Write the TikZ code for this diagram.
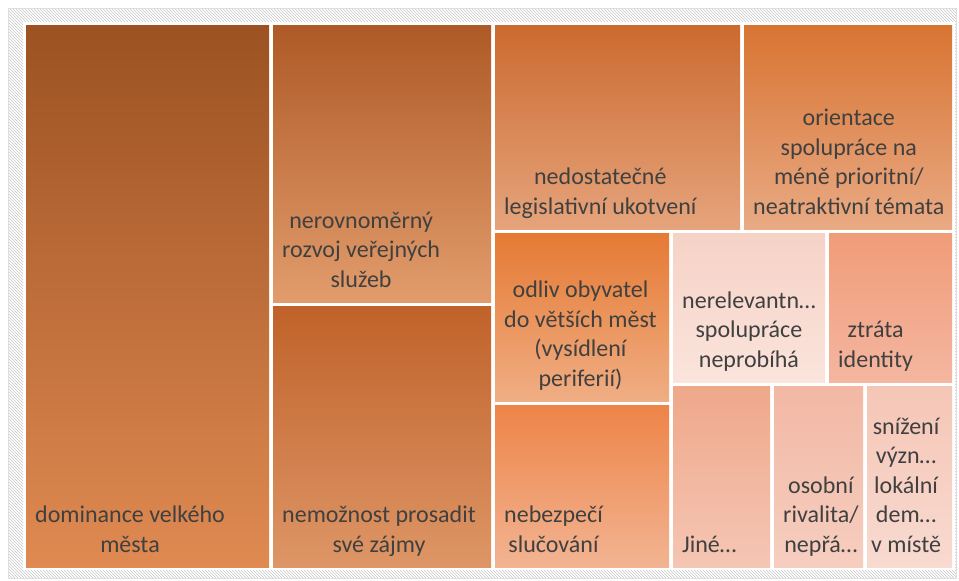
\documentclass[tikz,border=0pt]{standalone}
\usepackage{fontspec}
\setmainfont{Carlito}
\usetikzlibrary{patterns}

\definecolor{txt}{HTML}{404040}

\begin{document}
\begin{tikzpicture}[x=1pt,y=-1pt,
  tile/.style={anchor=north west, inner sep=0pt, draw=none, shading angle=0},
  lbl/.style={anchor=south west, align=center, inner xsep=9pt, inner ysep=6pt,
    text=txt, font=\fontsize{24pt}{29.5pt}\selectfont, execute at end node=\strut}]
\useasboundingbox (0,0) rectangle (959,581);
\fill[white] (0,0) rectangle (959,581);
\draw[gray!25, pattern=north west lines, pattern color=gray!45] (8,8) rectangle (956,578);
\fill[white] (23,22) rectangle (955,570);

\node[tile, top color={rgb,255:red,156;green,82;blue,34}, bottom color={rgb,255:red,224;green,138;blue,82},
  minimum width=243pt, minimum height=542pt] (domin) at (26,25) {};
\node[tile, top color={rgb,255:red,174;green,90;blue,38}, bottom color={rgb,255:red,226;green,156;blue,108},
  minimum width=218pt, minimum height=277pt] (rozvoj) at (273,25) {};
\node[tile, top color={rgb,255:red,192;green,98;blue,42}, bottom color={rgb,255:red,222;green,150;blue,102},
  minimum width=218pt, minimum height=261pt] (zajmy) at (273,306) {};
\node[tile, top color={rgb,255:red,203;green,106;blue,48}, bottom color={rgb,255:red,230;green,164;blue,124},
  minimum width=245pt, minimum height=204pt] (legis) at (495,25) {};
\node[tile, top color={rgb,255:red,216;green,116;blue,50}, bottom color={rgb,255:red,233;green,170;blue,132},
  minimum width=208pt, minimum height=204pt] (temata) at (744,25) {};
\node[tile, top color={rgb,255:red,229;green,122;blue,52}, bottom color={rgb,255:red,240;green,174;blue,132},
  minimum width=174pt, minimum height=168pt] (odliv) at (495,233) {};
\node[tile, top color={rgb,255:red,238;green,132;blue,72}, bottom color={rgb,255:red,242;green,180;blue,146},
  minimum width=174pt, minimum height=162pt] (sluc) at (495,405) {};
\node[tile, top color={rgb,255:red,246;green,210;blue,198}, bottom color={rgb,255:red,250;green,228;blue,220},
  minimum width=152pt, minimum height=149pt] (nerel) at (673,233) {};
\node[tile, top color={rgb,255:red,240;green,156;blue,120}, bottom color={rgb,255:red,244;green,182;blue,160},
  minimum width=123pt, minimum height=149pt] (ident) at (829,233) {};
\node[tile, top color={rgb,255:red,239;green,168;blue,138}, bottom color={rgb,255:red,245;green,198;blue,180},
  minimum width=97pt, minimum height=181pt] (jine) at (673,386) {};
\node[tile, top color={rgb,255:red,242;green,184;blue,164}, bottom color={rgb,255:red,246;green,206;blue,192},
  minimum width=89pt, minimum height=181pt] (rival) at (774,386) {};
\node[tile, top color={rgb,255:red,245;green,198;blue,182}, bottom color={rgb,255:red,248;green,218;blue,208},
  minimum width=85pt, minimum height=181pt] (demo) at (867,386) {};

\node[lbl] (domin-t) at (domin.south west) {dominance velkého\\města};
\node[lbl] (rozvoj-t) at (rozvoj.south west) {nerovnoměrný\\rozvoj veřejných\\služeb};
\node[lbl] (zajmy-t) at (zajmy.south west) {nemožnost prosadit\\své zájmy};
\node[lbl] (legis-t) at (legis.south west) {nedostatečné\\legislativní ukotvení};
\node[lbl] (temata-t) at (temata.south west) {orientace\\spolupráce na\\méně prioritní/\\neatraktivní témata};
\node[lbl] (odliv-t) at (odliv.south west) {odliv obyvatel\\do větších měst\\(vysídlení\\periferií)};
\node[lbl] (sluc-t) at (sluc.south west) {nebezpečí\\slučování};
\node[lbl] (nerel-t) at (nerel.south west) {nerelevantn…\\spolupráce\\neprobíhá};
\node[lbl] (ident-t) at (ident.south west) {ztráta\\identity};
\node[lbl] (jine-t) at (jine.south west) {Jiné…};
\node[lbl] (rival-t) at (rival.south west) {osobní\\rivalita/\\nepřá…};
\node[lbl, inner xsep=4pt] (demo-t) at (demo.south west) {snížení\\význ…\\lokální\\dem…\\v místě};
\end{tikzpicture}
\end{document}
